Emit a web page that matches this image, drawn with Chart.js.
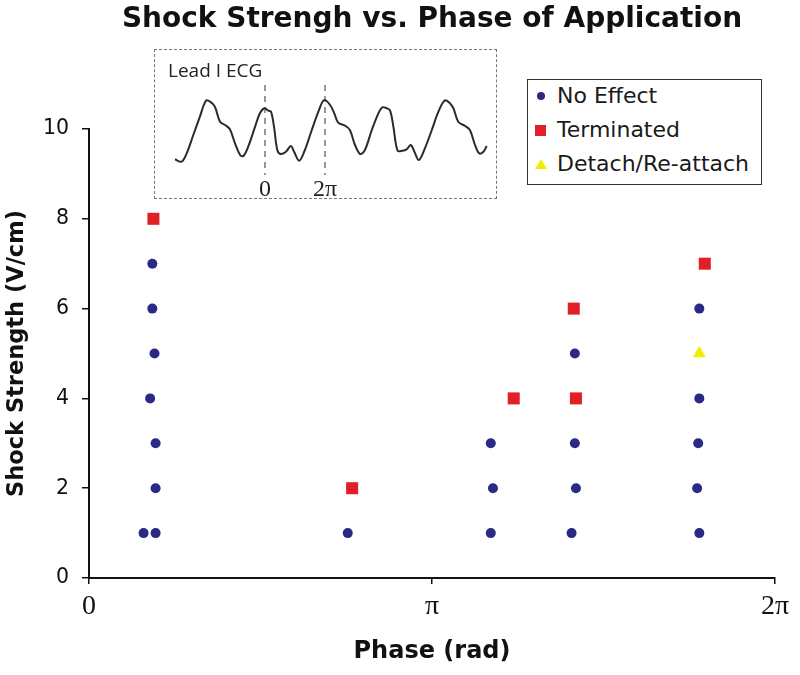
<!DOCTYPE html>
<html>
<head>
<meta charset="utf-8">
<title>Shock Strengh vs. Phase of Application</title>
<script src="https://cdn.jsdelivr.net/npm/chart.js@4.4.1/dist/chart.umd.min.js"></script>
<style>
    html, body { margin: 0; padding: 0; background: #fff; }
    #wrap { position: relative; width: 800px; height: 675px; }
    #main_chart { position: absolute; left: 0; top: 0; }
    #inset {
        position: absolute; left: 154px; top: 49px; width: 343px; height: 150px;
        box-sizing: border-box; border: 1px dashed #777;
    }
    #inset_chart { position: absolute; left: 0; top: 0; }
    #legend {
        position: absolute; left: 527px; top: 79px; width: 235px; height: 106px;
        box-sizing: border-box; border: 1.5px solid #333; background: #fff;
        font-family: 'DejaVu Sans', sans-serif; font-size: 22px; color: #1a1a1a;
    }
    .legend-row { position: absolute; left: 0; height: 34px; line-height: 34px; white-space: nowrap; }
    .legend-mark { position: absolute; }
    .legend-text { position: absolute; left: 29px; }
</style>
</head>
<body>
<div id="wrap">
    <canvas id="main_chart" width="800" height="675"></canvas>
    <div id="inset"><canvas id="inset_chart" width="341" height="148"></canvas></div>
    <div id="legend"></div>
</div>
<script>
const PI = Math.PI;

// Fase in radianti, intensita' dello shock in V/cm
const noEffectPhase = [0.58, 0.58, 0.60, 0.56, 0.61, 0.61, 0.50, 0.61, 2.37, 3.68, 3.70, 3.68, 4.45, 4.45, 4.46, 4.42, 5.59, 5.59, 5.58, 5.57, 5.59];
const noEffectStrength = [7, 6, 5, 4, 3, 2, 1, 1, 1, 3, 2, 1, 5, 3, 2, 1, 6, 4, 3, 2, 1];
const terminatedPhase = [0.59, 2.41, 3.89, 4.44, 4.46, 5.64];
const terminatedStrength = [8, 2, 4, 6, 4, 7];
const detachPhase = [5.59];
const detachStrength = [5];

const xTickValues = [0, PI, 2 * PI];
const xTickLabels = ['0', 'π', '2π'];

// ECG nel riquadro: fase in multipli di pi greco, ampiezza arbitraria
const ecgPhase = [-3.00, -2.78, -2.61, -2.39, -2.17, -1.97, -1.83, -1.67, -1.50, -1.33, -1.17, -1.00, -0.83, -0.72, -0.56, -0.33, -0.17, -0.02, 0.11, 0.20, 0.30, 0.41, 0.52, 0.70, 0.86, 0.97, 1.14, 1.33, 1.56, 1.78, 1.97, 2.17, 2.31, 2.44, 2.67, 2.83, 3.00, 3.17, 3.33, 3.56, 3.78, 3.91, 4.06, 4.17, 4.28, 4.42, 4.58, 4.72, 4.86, 4.98, 5.13, 5.33, 5.56, 5.78, 5.98, 6.13, 6.28, 6.44, 6.67, 6.83, 7.00, 7.14, 7.28, 7.39];
const ecgAmplitude = [1.57, 1.33, 2.17, 4.00, 5.83, 7.43, 7.33, 6.83, 5.33, 5.00, 4.57, 3.17, 2.00, 1.90, 2.83, 4.83, 6.17, 6.67, 6.43, 6.33, 4.83, 2.50, 2.10, 2.33, 2.90, 2.33, 1.43, 2.50, 4.50, 6.33, 7.50, 7.00, 6.17, 5.23, 4.93, 4.50, 3.00, 2.10, 2.50, 4.50, 6.17, 6.77, 6.67, 6.43, 4.83, 2.43, 2.43, 2.57, 3.00, 2.33, 1.50, 2.67, 4.50, 6.33, 7.43, 7.27, 6.67, 5.33, 4.90, 4.50, 3.00, 2.17, 2.33, 2.90];
const ecgMarkerPhase = [0, 2];
const ecgMarkerLabels = ['0', '2π'];

const navy = '#2a2a84';
const red = '#e11f27';
const yellow = '#f3ec00';

function toPoints(xs, ys) {
    return xs.map((x, i) => ({ x: x, y: ys[i] }));
}

const datasets = [
    {
        label: 'No Effect',
        data: toPoints(noEffectPhase, noEffectStrength),
        pointStyle: 'circle', pointRadius: 5, pointHoverRadius: 5,
        backgroundColor: navy, borderColor: navy, borderWidth: 0
    },
    {
        label: 'Terminated',
        data: toPoints(terminatedPhase, terminatedStrength),
        pointStyle: 'rect', pointRadius: 8.5, pointHoverRadius: 8.5,
        backgroundColor: red, borderColor: red, borderWidth: 0
    },
    {
        label: 'Detach/Re-attach',
        data: toPoints(detachPhase, detachStrength),
        pointStyle: 'triangle', pointRadius: 7.5, pointHoverRadius: 7.5,
        backgroundColor: yellow, borderColor: yellow, borderWidth: 0
    }
];

new Chart(document.getElementById('main_chart'), {
    type: 'scatter',
    data: { datasets: datasets },
    options: {
        responsive: false,
        animation: false,
        layout: { padding: { left: 0, right: 25, top: 0, bottom: 0 } },
        plugins: {
            legend: { display: false },
            tooltip: { enabled: false },
            title: {
                display: true,
                fullSize: false,
                text: 'Shock Strengh vs. Phase of Application',
                color: '#111',
                font: { family: 'DejaVu Sans', size: 28, weight: 'bold' },
                padding: { top: 3, bottom: 92.4 }
            }
        },
        scales: {
            x: {
                type: 'linear',
                min: 0,
                max: 2 * PI,
                afterBuildTicks: scale => { scale.ticks = xTickValues.map(v => ({ value: v })); },
                afterFit: scale => { scale.height = 97; },
                ticks: {
                    callback: (value, index) => xTickLabels[index],
                    color: '#111',
                    font: { family: 'Liberation Serif', size: 28 },
                    padding: 6,
                    maxRotation: 0
                },
                grid: { drawOnChartArea: false, color: '#111', lineWidth: 1.5, tickLength: 6 },
                border: { color: '#111', width: 2 },
                title: {
                    display: true,
                    text: 'Phase (rad)',
                    color: '#111',
                    font: { family: 'DejaVu Sans', size: 24, weight: 'bold' },
                    padding: { top: 0, bottom: 9 }
                }
            },
            y: {
                min: 0,
                max: 10,
                afterFit: scale => { scale.width = 89; },
                ticks: {
                    stepSize: 2,
                    color: '#111',
                    font: { family: 'DejaVu Sans', size: 20.5 },
                    padding: 13
                },
                grid: { drawOnChartArea: false, color: '#111', lineWidth: 1.5, tickLength: 7 },
                border: { color: '#111', width: 2 },
                title: {
                    display: true,
                    text: 'Shock Strength (V/cm)',
                    color: '#111',
                    font: { family: 'DejaVu Sans', size: 22.5, weight: 'bold' },
                    padding: { top: 4, bottom: 0 }
                }
            }
        }
    }
});

// Riquadro con la traccia ECG
const ecgDatasets = [
    {
        data: toPoints(ecgPhase, ecgAmplitude),
        borderColor: '#2b2b2b', borderWidth: 2, pointRadius: 0, tension: 0.35, fill: false
    }
].concat(ecgMarkerPhase.map(p => ({
    data: [{ x: p, y: -0.4 }, { x: p, y: 9 }],
    borderColor: '#555', borderWidth: 1.2, borderDash: [6, 5], pointRadius: 0, fill: false
})));

new Chart(document.getElementById('inset_chart'), {
    type: 'line',
    data: { datasets: ecgDatasets },
    options: {
        responsive: false,
        animation: false,
        layout: { padding: { left: 13, right: 0, top: 0, bottom: 0 } },
        plugins: {
            legend: { display: false },
            tooltip: { enabled: false },
            title: {
                display: true,
                text: 'Lead I ECG',
                align: 'start',
                color: '#222',
                font: { family: 'Open Sans', size: 19, weight: 'normal' },
                padding: { top: 10, bottom: 2.2 }
            }
        },
        scales: {
            x: {
                type: 'linear',
                min: -3.233,
                max: 7.7,
                afterBuildTicks: scale => { scale.ticks = ecgMarkerPhase.map(v => ({ value: v })); },
                afterFit: scale => { scale.height = 23; },
                ticks: {
                    callback: (value, index) => ecgMarkerLabels[index],
                    color: '#222',
                    font: { family: 'Liberation Serif', size: 24 },
                    padding: 0,
                    maxRotation: 0
                },
                grid: { display: false, drawTicks: false },
                border: { display: false }
            },
            y: { display: false, min: 0, max: 9 }
        }
    }
});

// Legenda HTML costruita dai dataset
const legend = document.getElementById('legend');
datasets.forEach((ds, i) => {
    const row = document.createElement('div');
    row.className = 'legend-row';
    row.style.top = (i * 34 - 1) + 'px';
    const mark = document.createElement('span');
    mark.className = 'legend-mark';
    if (ds.pointStyle === 'circle') {
        Object.assign(mark.style, { left: '9px', top: '13px', width: '8px', height: '8px', borderRadius: '50%', background: ds.backgroundColor });
    } else if (ds.pointStyle === 'rect') {
        Object.assign(mark.style, { left: '7px', top: '12px', width: '11px', height: '11px', background: ds.backgroundColor });
    } else {
        Object.assign(mark.style, { left: '7px', top: '12px', width: '0', height: '0', borderLeft: '6px solid transparent', borderRight: '6px solid transparent', borderBottom: '10px solid ' + ds.backgroundColor });
    }
    const text = document.createElement('span');
    text.className = 'legend-text';
    text.textContent = ds.label;
    row.appendChild(mark);
    row.appendChild(text);
    legend.appendChild(row);
});
</script>
</body>
</html>
